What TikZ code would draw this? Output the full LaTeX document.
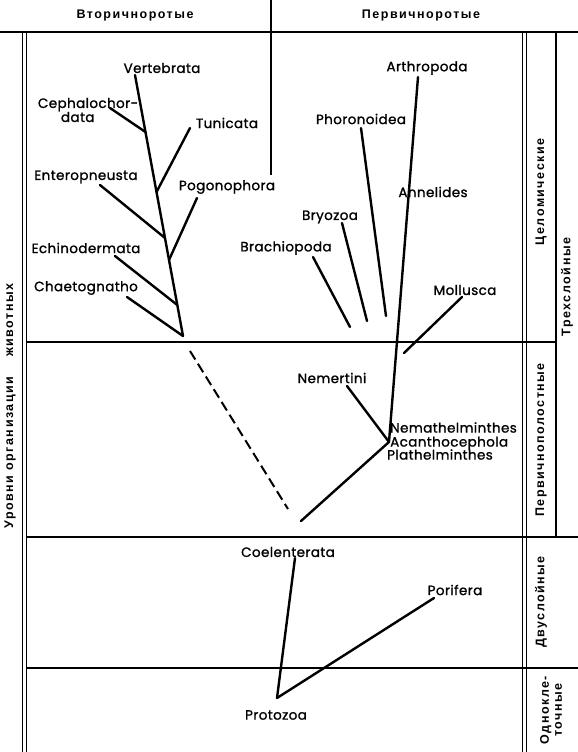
\documentclass[tikz,border=0pt]{standalone}
\usepackage{fontspec}
\newfontfamily\lafont[FakeBold=1.2,LetterSpace=3]{Poppins}
\newfontfamily\rufont[LetterSpace=12]{Liberation Sans}

\begin{document}
\begin{tikzpicture}[x=1pt,y=-1pt,
  taxon/.style={font=\lafont\fontsize{13.5}{14}\selectfont, inner sep=0pt},
  grp/.style={font=\rufont\bfseries\fontsize{12.5}{13}\selectfont, inner sep=0pt},
  branch/.style={line width=2.4pt, line cap=round},
  rule/.style={line width=1.3pt}]
\useasboundingbox (0,0) rectangle (578,752);
\draw[line width=2.2pt] (0,32) -- (578,32);
\draw[rule] (271,0) -- (271,175);
\foreach \x in {22.5,26.5,522.5,526.5} \draw[rule] (\x,32) -- (\x,752);
\draw[rule] (556,32) -- (556,537);
\draw[rule] (27,342) -- (556,342);
\foreach \y in {537,668} \draw[rule] (27,\y) -- (578,\y);

\node[grp] (deut) at (135,15) {Вторичноротые};
\node[grp] (prot) at (421,15) {Первичноротые};
\node[grp, rotate=90] (coel) at (541,192) {Целомические};
\node[grp, rotate=90] (pseu) at (541,440) {Первичнополостные};
\node[grp, rotate=90] (dipl) at (541,602) {Двуслойные};
\node[grp, rotate=90, align=center] (unic) at (551,710) {Однокле-\\точные};
\node[grp, rotate=90] (tripl) at (567,287) {Трехслойные};
\node[grp, rotate=90] (levels) at (10,406) {Уровни организации\hspace{1.6em}животных};

\node[taxon] (vert) at (162,68) {Vertebrata};
\node[taxon, align=left] (ceph) at (88,110) {Cephalochor-\\\hspace*{23pt}data};
\node[taxon] (tuni) at (227,123) {Tunicata};
\node[taxon] (ente) at (86,177) {Enteropneusta};
\node[taxon] (pogo) at (227,187) {Pogonophora};
\node[taxon] (echi) at (86,248) {Echinodermata};
\node[taxon] (chae) at (86,288) {Chaetognatho};
\node[taxon] (arth) at (427,68) {Arthropoda};
\node[taxon] (phor) at (361,119) {Phoronoidea};
\node[taxon] (anne) at (433,192) {Annelides};
\node[taxon] (bryo) at (330,217) {Bryozoa};
\node[taxon] (brac) at (286,248) {Brachiopoda};
\node[taxon] (moll) at (465,290) {Mollusca};
\node[taxon] (neme) at (332,378) {Nemertini};
\node[taxon, anchor=west, align=left] (nemh) at (390,441) {Nemathelminthes\\Acanthocephola\\[-1pt]\hspace*{-3pt}Plathelminthes};
\node[taxon] (coele) at (288,552) {Coelenterata};
\node[taxon] (pori) at (455,590) {Porifera};
\node[taxon] (prtz) at (276,715) {Protozoa};

\coordinate (droot) at (183,336);
\coordinate (proot) at (389,442);
\coordinate (base) at (277,698);
\foreach \n/\x/\y in {vert/135/75, ceph/110/108, tuni/190/128, ente/100/185, pogo/197/198,
  echi/115/256, chae/127/297, arth/418/77, phor/361/128, bryo/342/223, brac/313/257,
  moll/462/297, neme/347/386, coele/295/558, pori/434/598}
  \coordinate (\n-t) at (\x,\y);
\foreach \n/\x/\y in {ceph/145.5/132, tuni/156.5/192, ente/165/238, pogo/169/260, echi/177.3/305,
  phor/386/316, bryo/367/321, brac/350/327, moll/404/353, plat/301/521, dash/288/509}
  \coordinate (\n-e) at (\x,\y);
\coordinate (dash-t) at (190,351);

\draw[branch] (vert-t) -- (droot);
\draw[branch] (chae-t) -- (droot);
\foreach \n in {ceph,tuni,ente,pogo,echi,phor,bryo,brac,moll} \draw[branch] (\n-t) -- (\n-e);
\draw[line width=2pt, dash pattern=on 10pt off 5pt] (dash-t) -- (dash-e);
\draw[branch] (arth-t) -- (proot);
\draw[branch] (neme-t) -- (proot);
\draw[branch] (proot) -- (plat-e);
\draw[branch] (coele-t) -- (base);
\draw[branch] (pori-t) -- (base);
\end{tikzpicture}
\end{document}
